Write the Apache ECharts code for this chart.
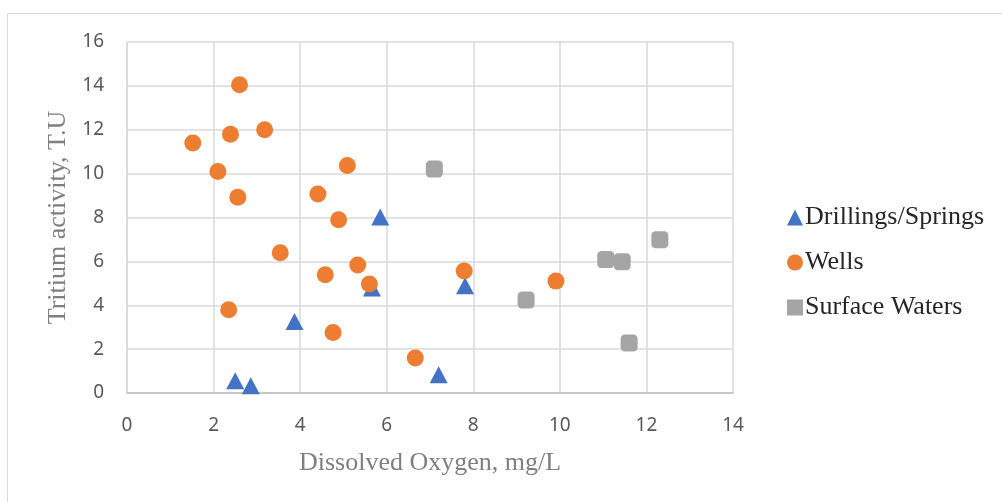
<!DOCTYPE html>
<html><head><meta charset="utf-8">
<script src="https://cdn.jsdelivr.net/npm/echarts@6/dist/echarts.min.js"></script>
<style>html,body{margin:0;padding:0;background:#fff}#c{width:1002px;height:502px}</style>
</head><body><div id="c"></div>
<script>
const xTicks = [0, 2, 4, 6, 8, 10, 12, 14];
const yTicks = [0, 2, 4, 6, 8, 10, 12, 14, 16];
const drillings = [[5.85, 8.02], [5.66, 4.79], [7.81, 4.89], [3.87, 3.26], [2.50, 0.56], [2.86, 0.33], [7.20, 0.83]];
const wells = [[2.60, 14.05], [3.18, 12.0], [2.39, 11.8], [1.52, 11.4], [2.10, 10.1], [5.09, 10.37], [2.56, 8.92], [4.41, 9.07], [4.89, 7.9], [3.54, 6.39], [5.33, 5.83], [4.58, 5.39], [5.60, 4.97], [7.79, 5.56], [2.35, 3.80], [4.76, 2.76], [6.66, 1.60], [9.91, 5.1]];
const surface = [[7.10, 10.21], [12.31, 6.99], [11.06, 6.08], [11.44, 5.98], [9.22, 4.24], [11.60, 2.28]];
const seriesNames = ['Drillings/Springs', 'Wells', 'Surface Waters'];

const chart = echarts.init(document.getElementById('c'), null, {renderer: 'canvas'});
const tickFont = {color: '#595959', fontSize: 19, fontFamily: 'Noto Sans'};
chart.setOption({
  animation: false,
  graphic: [{type: 'rect', shape: {x: 7.5, y: 13.5, width: 1010, height: 500}, style: {fill: 'none', stroke: '#d9d9d9', lineWidth: 1}}],
  grid: {left: 127, right: 269, top: 42, bottom: 109, containLabel: false},
  xAxis: {
    type: 'value', min: xTicks[0], max: xTicks[xTicks.length - 1], interval: 2,
    name: 'Dissolved Oxygen, mg/L', nameLocation: 'middle', nameGap: 57,
    nameTextStyle: {color: '#7f7f7f', fontSize: 26, fontFamily: 'Liberation Serif'},
    axisLine: {show: true, lineStyle: {color: '#bfbfbf', width: 1.5}},
    axisTick: {show: false},
    axisLabel: Object.assign({margin: 23}, tickFont),
    splitLine: {show: true, lineStyle: {color: '#d9d9d9', width: 1.5}}
  },
  yAxis: {
    type: 'value', min: yTicks[0], max: yTicks[yTicks.length - 1], interval: 2,
    name: 'Tritium activity, T.U', nameLocation: 'middle', nameGap: 56, nameRotate: 90,
    nameTextStyle: {color: '#7f7f7f', fontSize: 26, fontFamily: 'Liberation Serif'},
    axisLine: {show: true, lineStyle: {color: '#d9d9d9', width: 1.5}},
    axisTick: {show: false},
    axisLabel: Object.assign({margin: 23}, tickFont),
    splitLine: {show: true, lineStyle: {color: '#d9d9d9', width: 1.5}}
  },
  legend: {
    orient: 'vertical', left: 782, top: 199.5, itemGap: 19, itemWidth: 16, itemHeight: 16,
    textStyle: {color: '#262626', fontSize: 26, lineHeight: 26, fontFamily: 'Liberation Serif', padding: [0, 0, 0, -3]},
    data: [
      {name: seriesNames[0], icon: 'triangle'},
      {name: seriesNames[1], icon: 'circle'},
      {name: seriesNames[2], icon: 'rect'}
    ]
  },
  series: [
    {name: seriesNames[0], type: 'scatter', symbol: 'triangle', symbolSize: [18, 17], data: drillings, itemStyle: {color: '#4472c4', opacity: 1}, z: 2},
    {name: seriesNames[1], type: 'scatter', symbol: 'circle', symbolSize: 17, data: wells, itemStyle: {color: '#ed7d31', opacity: 1}, z: 3},
    {name: seriesNames[2], type: 'scatter', symbol: 'roundRect', symbolSize: 17, data: surface, itemStyle: {color: '#a5a5a5', opacity: 1}, z: 4}
  ]
});
</script></body></html>
